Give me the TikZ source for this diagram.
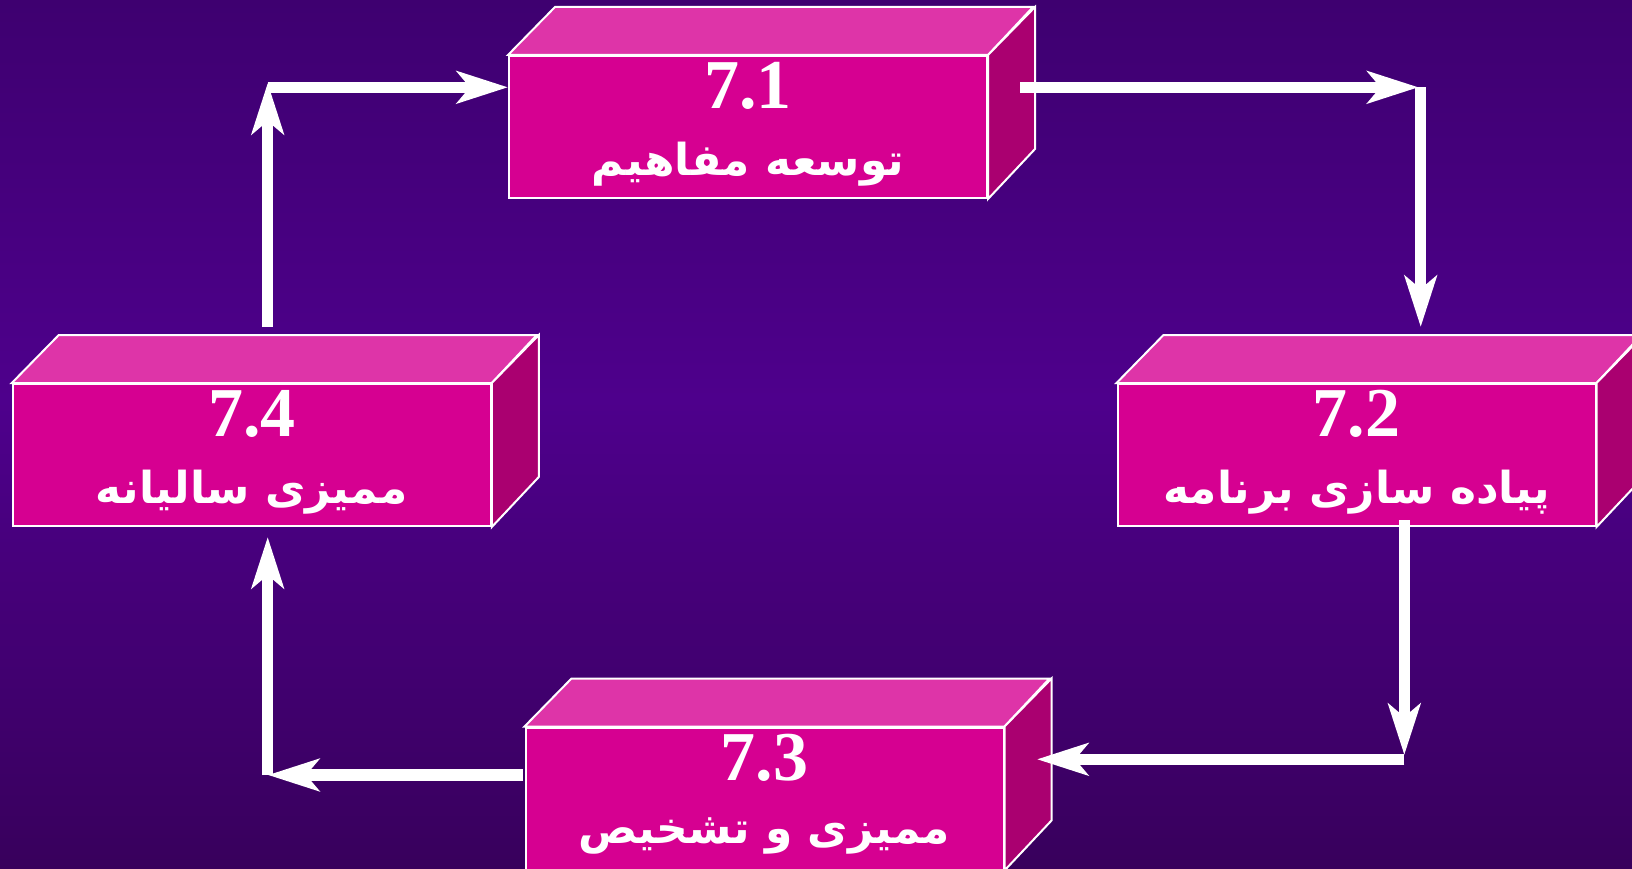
\documentclass[tikz,border=0pt]{standalone}
\usepackage{fontspec}
\usetikzlibrary{arrows.meta}
\TeXXeTstate=1
\newfontfamily\numfont{Liberation Serif}
\newfontfamily\fafont[Script=Arabic]{DejaVu Sans}
\definecolor{bgtop}{HTML}{3E0070}
\definecolor{bgmid}{HTML}{4E008C}
\definecolor{bgbot}{HTML}{38005C}
\definecolor{frontc}{HTML}{D60091}
\definecolor{topc}{HTML}{DE34A8}
\definecolor{sidec}{HTML}{AA0070}
\tikzset{
  front/.style={draw=white, line width=2pt, fill=frontc, minimum width=478pt, minimum height=142pt, inner sep=0pt},
  topface/.style={draw=white, line width=2pt, fill=topc, line join=miter},
  sideface/.style={draw=white, line width=2pt, fill=sidec, line join=miter},
  numtext/.style={text=white, inner sep=0pt, font=\numfont\bfseries\fontsize{70}{70}\selectfont},
  fatext/.style={text=white, inner sep=0pt, font=\fafont\bfseries\fontsize{44}{44}\selectfont},
  conn/.style={draw=white, line width=11.5pt, -{Stealth[length=51pt, width=32pt, inset=13pt]}}
}
\newcommand\drawcube[5]{%
  \node[front] (#1) at (#2,#3) {};
  \filldraw[topface] (#1.north west) -- ++(47,-48) -- ++(478,0) -- (#1.north east) -- cycle;
  \filldraw[sideface] (#1.north east) -- ++(47,-48) -- ++(0,142) -- (#1.south east) -- cycle;
  \node[numtext] (#1n) at (#2,#3-41) {#4};
  \node[fatext] (#1t) at (#2,#3+37) {#5};
}
\begin{document}
\begin{tikzpicture}[x=1pt,y=-1pt]
  \useasboundingbox (0,0) rectangle (1632,869);
  \clip (0,0) rectangle (1632,869);
  \shade[top color=bgtop, bottom color=bgmid] (0,0) rectangle (1632,400);
  \shade[top color=bgmid, bottom color=bgbot] (0,400) rectangle (1632,869);

  \drawcube{b1}{748}{127}{7.1}{\beginR توسعه مفاهیم\endR}
  \drawcube{b2}{1356.5}{455}{7.2}{\beginR پیاده سازی برنامه\endR}
  \drawcube{b4}{251.8}{455}{7.4}{\beginR ممیزی سالیانه\endR}
  \drawcube{b3}{764.5}{798.5}{7.3}{\beginR ممیزی و تشخیص\endR}

  % coordinates for connector corners and free ends
  \coordinate (a1s) at (267.7,327);
  \coordinate (a1c) at (267.7,83);
  \coordinate (a1h) at (267.7,87.3);
  \coordinate (a2s) at (1020,87.3);
  \coordinate (a2c) at (1418.5,87.3);
  \coordinate (a2v) at (1420.7,87.3);
  \coordinate (a2e) at (1420.7,327);
  \coordinate (a3s) at (1404.3,520);
  \coordinate (a3c) at (1404.3,755);
  \coordinate (a3h) at (1404.3,759.3);
  \coordinate (a3e) at (1037,759.3);
  \coordinate (a4s) at (523,775);
  \coordinate (a4c) at (268,775);
  \coordinate (a4v) at (267.7,775);
  \coordinate (a4e) at (267.7,537);

  % 7.4 -> 7.1
  \draw[conn] (a1s) -- (a1c);
  \draw[conn] (a1h) -- (a1h -| b1.west);
  % 7.1 -> 7.2
  \draw[conn] (a2s) -- (a2c);
  \draw[conn] (a2v) -- (a2e);
  % 7.2 -> 7.3
  \draw[conn] (a3s) -- (a3c);
  \draw[conn] (a3h) -- (a3e);
  % 7.3 -> 7.4
  \draw[conn] (a4s) -- (a4c);
  \draw[conn] (a4v) -- (a4e);
\end{tikzpicture}
\end{document}
